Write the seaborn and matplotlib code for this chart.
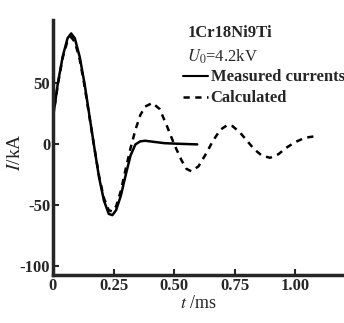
# Corriente medida vs calculada, 1Cr18Ni9Ti a U0=4.2kV
import pandas as pd
import matplotlib
matplotlib.use("Agg")
import matplotlib.pyplot as plt
from matplotlib.lines import Line2D
import seaborn as sns

# datos
t_medida = [0.0, 0.02, 0.04, 0.06, 0.075, 0.09, 0.11, 0.13, 0.15, 0.17,
            0.19, 0.21, 0.23, 0.245, 0.26, 0.28, 0.30, 0.32, 0.34, 0.36,
            0.38, 0.42, 0.46, 0.52, 0.595]
i_medida = [22, 50, 72, 87, 91, 87, 72, 50, 24, -2,
            -27, -46, -57, -58, -54, -42, -25, -9, 0, 2.5,
            3, 2, 1, 0.5, 0]

t_calculada = [0.0, 0.02, 0.04, 0.06, 0.075, 0.09, 0.11, 0.13, 0.15, 0.17,
               0.19, 0.21, 0.23, 0.245, 0.26, 0.28, 0.30, 0.32, 0.34, 0.36,
               0.38, 0.41, 0.44, 0.47, 0.50, 0.53, 0.55, 0.57, 0.60, 0.63,
               0.66, 0.69, 0.72, 0.74, 0.77, 0.80, 0.83, 0.86, 0.895, 0.93,
               0.96, 1.00, 1.04, 1.075]
i_calculada = [22, 49, 71, 85, 88, 84, 70, 48, 23, -2,
               -26, -44, -54, -55, -51, -38, -20, -3, 12, 24,
               31, 34, 29, 15, 0, -13, -20, -22, -18, -8,
               3, 12, 16, 15, 10, 3, -4, -9, -11, -8,
               -3, 2, 5.5, 6.5]

series = ["Measured currents", "Calculated"]
xticks = [0, 0.25, 0.50, 0.75, 1.00]
xlabels = ["0", "0.25", "0.50", "0.75", "1.00"]
yticks = [-100, -50, 0, 50]

df = pd.concat([
    pd.DataFrame({"t": t_medida, "I": i_medida, "serie": series[0]}),
    pd.DataFrame({"t": t_calculada, "I": i_calculada, "serie": series[1]}),
])

sns.set_style("ticks")
plt.rcParams["font.family"] = ["Liberation Serif", "DejaVu Serif"]
plt.rcParams["mathtext.fontset"] = "stix"
plt.rcParams["axes.unicode_minus"] = False

fig = plt.figure(figsize=(3.44, 3.23), dpi=100)
ax = fig.add_axes([0.154, 0.149, 0.846, 0.789])

sns.lineplot(data=df, x="t", y="I", style="serie", style_order=series,
             dashes={series[0]: "", series[1]: (2.5, 2.2)}, color="black",
             linewidth=1.8, sort=False, ax=ax, legend=False)

ax.set_xlim(0, 1.2)
ax.set_ylim(-107, 102)
ax.set_xticks(xticks)
ax.set_xticklabels(xlabels)
ax.set_yticks(yticks)
sns.despine(ax=ax)
for lado in ["left", "bottom"]:
    ax.spines[lado].set_linewidth(2.5)
ax.tick_params(direction="in", length=4, width=1.5, labelsize=12, pad=2)
for lbl in ax.get_xticklabels() + ax.get_yticklabels():
    lbl.set_fontweight("bold")

ax.set_xlabel(r"$\it{t}$ /ms", fontsize=13)
ax.set_ylabel(r"$\it{I}$/kA", fontsize=14)
ax.xaxis.set_label_coords(0.5, -0.08)
ax.yaxis.set_label_coords(-0.098, 0.48)

# textos y leyenda arriba a la derecha
ax.text(0.464, 0.949, "1Cr18Ni9Ti", transform=ax.transAxes, fontsize=12,
        fontweight="bold", va="center")
ax.text(0.460, 0.855, r"$\it{U}_{0}$=4.2kV", transform=ax.transAxes,
        fontsize=12, va="center")
handles = [Line2D([], [], color="black", lw=1.5),
           Line2D([], [], color="black", lw=1.8, ls=(0, (2.5, 2.2)))]
ax.legend(handles, series, loc="upper left", bbox_to_anchor=(0.447, 0.806),
          frameon=False, handlelength=1.5, handletextpad=0.15,
          labelspacing=0.3, borderaxespad=0, borderpad=0,
          prop={"family": "Liberation Serif", "weight": "bold", "size": 12})

plt.savefig("out.png", dpi=100)
